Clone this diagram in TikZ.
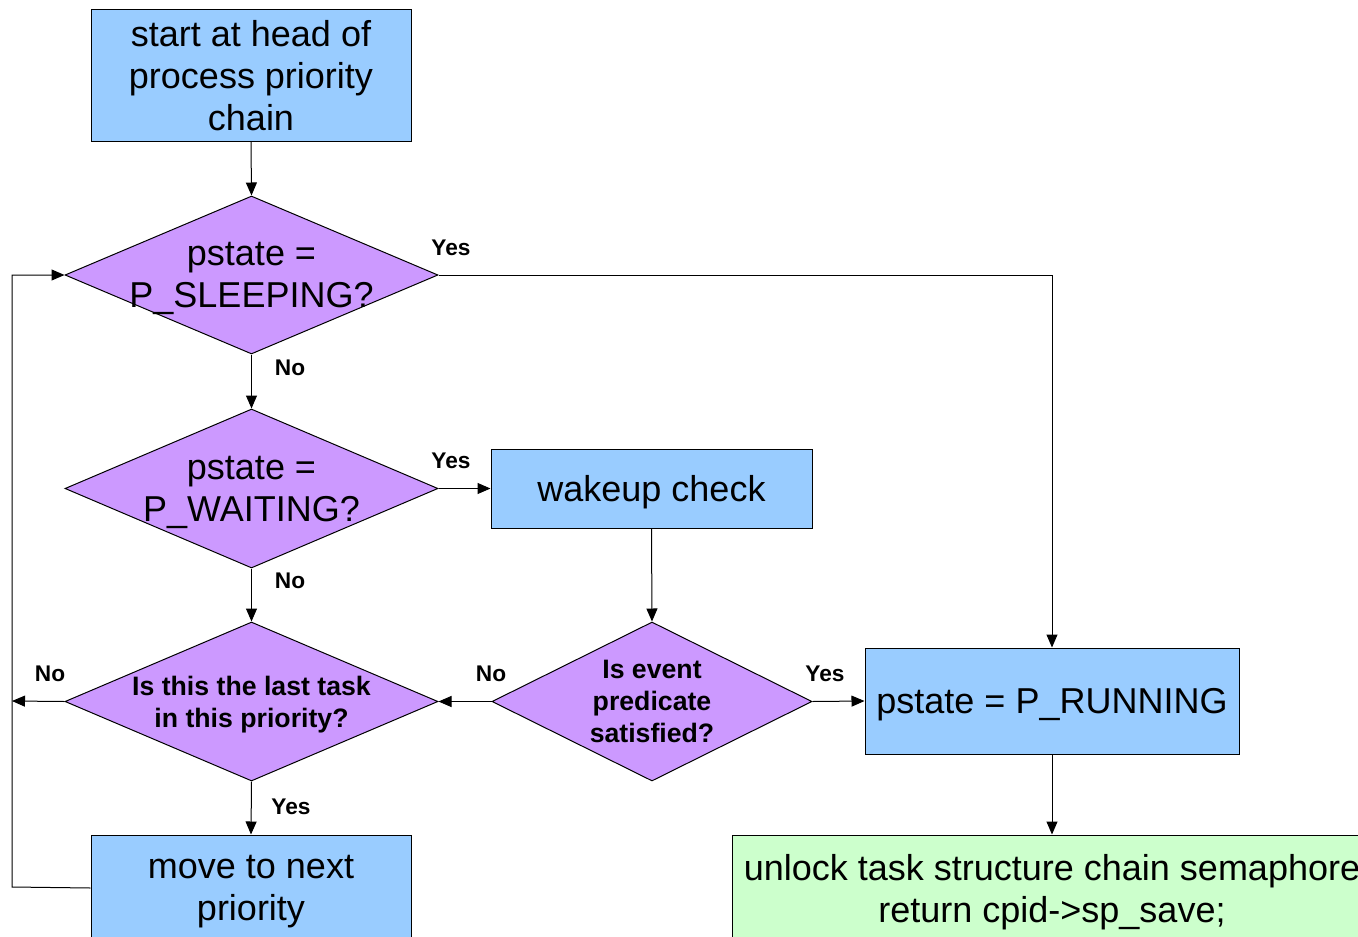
\documentclass[tikz,border=0pt]{standalone}
\usepackage{fontspec}
\setmainfont{Liberation Sans}
\usetikzlibrary{arrows.meta,shapes.geometric}
\definecolor{boxblue}{HTML}{99CCFF}
\definecolor{decpurple}{HTML}{CC99FF}
\definecolor{endgreen}{HTML}{CCFFCC}
\tikzstyle{process}=[draw=black, fill=boxblue, line width=1pt, inner sep=0pt, align=center, text depth=0pt, font=\fontsize{36}{42}\selectfont]
\tikzstyle{finish}=[process, fill=endgreen]
\tikzstyle{decision}=[diamond, draw=black, fill=decpurple, line width=1pt, inner sep=0pt]
\tikzstyle{dtext}=[align=center, inner sep=0pt, text depth=0pt, font=\fontsize{36}{42}\selectfont]
\tikzstyle{qtext}=[align=center, inner sep=0pt, text depth=0pt, font=\fontsize{26.67}{32}\selectfont\bfseries]
\tikzstyle{answer}=[inner sep=0pt, font=\fontsize{22.67}{26}\selectfont\bfseries]
\tikzstyle{arrow}=[draw=black, line width=1pt, >={Triangle[length=13pt, width=11pt]}]

\begin{document}
\begin{tikzpicture}[x=1pt, y=-1pt]
		   \clip (0,0) rectangle (1358,937);
		   \begin{scope}
			   \node (start) at (251,75)[process, minimum width=320, minimum height=132] {start at head of\\process priority\\chain};
			   \node (sleep) at (251.5,275)[decision, minimum width=373, minimum height=158] {};
			   \node (sleeptext) at (sleep)[dtext] {pstate =\\P\_SLEEPING?};
			   \node (wait) at (251.5,488.5)[decision, minimum width=373, minimum height=159] {};
			   \node (waittext) at (wait)[dtext] {pstate =\\P\_WAITING?};
			   \node (last) at (251.5,701.5)[decision, minimum width=373, minimum height=159] {};
			   \node (lasttext) at (last)[qtext] {Is this the last task\\in this priority?};
			   \node (next) at (251,888)[process, minimum width=320, minimum height=106] {move to next\\priority};
			   \node (wake) at (651.5,488.5)[process, minimum width=321, minimum height=79] {wakeup check};
			   \node (event) at (652,701.5)[decision, minimum width=320, minimum height=159] {};
			   \node (eventtext) at (event)[qtext] {Is event\\predicate\\satisfied?};
			   \node (running) at (1052,701)[process, minimum width=374, minimum height=106] {pstate = P\_RUNNING};
			   \node (unlock) at (1052,888)[finish, minimum width=640, minimum height=106] {unlock task structure chain semaphore\\return cpid->sp\_save;};
			   \coordinate (back) at (12,887);
			   \coordinate (out) at (12,701);
		   \end{scope}
		   \begin{scope}
			   \node (yes1) at (451,248)[answer] {Yes};
			   \node (no1) at (290,368)[answer] {No};
			   \node (yes2) at (451,461)[answer] {Yes};
			   \node (no2) at (290,581)[answer] {No};
			   \node (no3) at (50,674)[answer] {No};
			   \node (yes3) at (291,807)[answer] {Yes};
			   \node (no4) at (491,674)[answer] {No};
			   \node (yes4) at (825,674)[answer] {Yes};
		   \end{scope}
		   \begin{scope}[arrow]
			   \path [->] (start.south) edge (sleep.north);
			   \path [->] (sleep.south) edge (wait.north);
			   \path [->] (wait.south) edge (last.north);
			   \path [->] (last.south) edge (next.north);
			   \path [->] (wait.east) edge (wake.west);
			   \path [->] (wake.south) edge (event.north);
			   \path [->] (event.west) edge (last.east);
			   \path [->] (event.east) edge (running.west);
			   \path [->] (running.south) edge (unlock.north);
			   \path [->] (last.west) edge (out);
			   \draw [->] (sleep.east) -| (running.north);
			   \draw [->] (next.west) -- (back) |- (sleep.west);
		   \end{scope}
	   \end{tikzpicture}
\end{document}
